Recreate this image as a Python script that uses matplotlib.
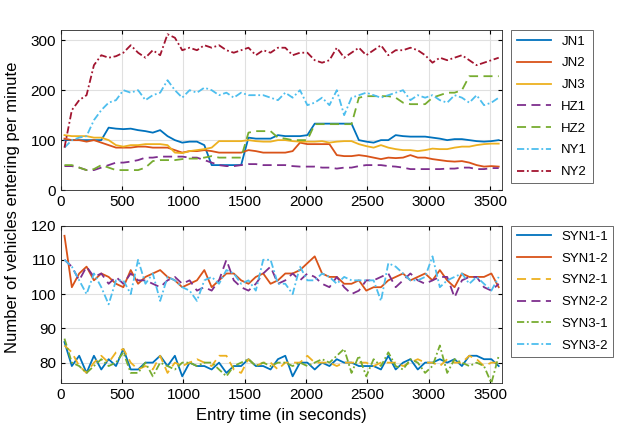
import numpy as np
import matplotlib.pyplot as plt

plt.rcParams['font.family'] = 'Liberation Sans'

# entry times (s), one sample per minute
T = [30 + 60 * i for i in range(60)]

JN1 = [100, 100, 100, 100, 100, 100, 125, 123, 122, 123, 120, 118, 115, 120, 108, 100, 95, 97, 97, 90,
       50, 50, 50, 50, 50, 105, 103, 103, 103, 110, 108, 108, 108, 110, 133, 133, 133, 133, 133, 133,
       100, 97, 95, 100, 100, 110, 108, 107, 107, 107, 105, 103, 100, 102, 102, 100, 98, 97, 98, 100]
JN2 = [103, 100, 100, 97, 100, 95, 90, 85, 85, 85, 87, 87, 85, 85, 85, 80, 75, 78, 78, 80,
       78, 75, 75, 75, 75, 80, 78, 75, 75, 75, 75, 78, 95, 92, 92, 92, 92, 70, 68, 68,
       70, 68, 65, 62, 65, 64, 65, 70, 65, 65, 62, 60, 58, 57, 58, 55, 50, 47, 48, 47]
JN3 = [110, 108, 108, 108, 105, 105, 100, 90, 87, 90, 90, 92, 92, 92, 90, 75, 74, 78, 80, 82,
       85, 98, 98, 98, 98, 100, 98, 97, 97, 100, 100, 98, 97, 97, 97, 98, 95, 97, 98, 98,
       92, 88, 85, 90, 85, 82, 80, 80, 78, 80, 83, 82, 82, 85, 87, 87, 90, 92, 93, 93]
HZ1 = [48, 48, 45, 40, 40, 45, 50, 55, 55, 57, 60, 65, 65, 67, 67, 67, 67, 65, 65, 60,
       55, 50, 48, 48, 50, 52, 52, 50, 50, 50, 50, 48, 47, 47, 47, 45, 45, 43, 45, 45,
       48, 50, 50, 50, 48, 47, 45, 42, 42, 42, 42, 42, 43, 43, 45, 45, 42, 42, 44, 44]
HZ2 = [50, 50, 45, 40, 42, 50, 45, 40, 40, 40, 40, 45, 58, 60, 60, 60, 62, 63, 63, 65,
       68, 65, 65, 65, 65, 115, 118, 118, 118, 105, 103, 100, 100, 100, 132, 132, 132, 132, 132, 132,
       185, 188, 188, 188, 188, 185, 175, 172, 172, 172, 185, 190, 195, 195, 200, 228, 228, 228, 228, 228]
NY1 = [85, 100, 105, 108, 140, 160, 175, 180, 200, 195, 200, 180, 190, 195, 220, 200, 185, 200, 195, 205,
       200, 190, 195, 185, 195, 190, 190, 190, 185, 180, 195, 185, 200, 170, 175, 185, 170, 200, 150, 185,
       190, 195, 190, 185, 190, 195, 200, 180, 190, 185, 190, 180, 175, 190, 185, 175, 190, 170, 175, 185]
NY2 = [85, 160, 180, 190, 250, 270, 265, 268, 275, 290, 275, 265, 280, 270, 312, 305, 280, 285, 280, 290,
       285, 290, 280, 275, 280, 285, 270, 280, 275, 285, 285, 270, 275, 275, 260, 255, 260, 285, 265, 275,
       285, 270, 280, 290, 270, 280, 280, 285, 280, 270, 255, 265, 260, 265, 270, 260, 250, 255, 260, 265]

SYN1_1 = [86, 79, 82, 77, 82, 78, 81, 79, 84, 78, 78, 80, 80, 82, 79, 82, 76, 80, 79, 79,
          78, 80, 77, 79, 79, 81, 79, 79, 78, 81, 82, 76, 80, 80, 78, 80, 79, 81, 80, 80,
          79, 79, 79, 78, 82, 78, 80, 81, 78, 80, 80, 81, 80, 81, 79, 82, 82, 81, 81, 79]
SYN1_2 = [117, 102, 106, 108, 104, 106, 105, 103, 102, 107, 103, 105, 106, 107, 105, 104, 102, 103, 104, 107,
          102, 104, 106, 106, 104, 103, 105, 106, 103, 104, 106, 106, 107, 109, 111, 106, 105, 105, 103, 103,
          104, 101, 102, 102, 104, 105, 106, 104, 105, 106, 104, 107, 104, 102, 106, 105, 105, 105, 106, 102]
SYN2_1 = [85, 83, 79, 77, 80, 82, 80, 83, 84, 80, 78, 79, 78, 82, 77, 80, 79, 80, 81, 80,
          79, 82, 82, 78, 77, 81, 79, 80, 80, 78, 80, 80, 80, 82, 80, 80, 80, 79, 80, 80,
          80, 80, 79, 80, 80, 80, 79, 80, 81, 80, 80, 79, 81, 80, 80, 82, 81, 79, 80, 80]
SYN2_2 = [110, 108, 104, 108, 105, 106, 103, 105, 103, 106, 104, 104, 103, 102, 104, 105, 103, 104, 101, 102,
          101, 104, 110, 104, 102, 101, 103, 106, 108, 103, 104, 106, 104, 106, 105, 103, 102, 105, 102, 100,
          101, 104, 104, 105, 106, 102, 104, 106, 104, 103, 104, 105, 105, 99, 104, 105, 105, 102, 101, 103]
SYN3_1 = [87, 80, 79, 77, 79, 81, 79, 80, 83, 77, 77, 80, 76, 80, 79, 78, 80, 80, 79, 80,
          80, 78, 76, 79, 80, 81, 79, 80, 79, 80, 80, 79, 80, 79, 80, 81, 80, 82, 84, 77,
          82, 76, 81, 79, 83, 79, 78, 81, 80, 77, 79, 85, 77, 81, 80, 79, 80, 79, 74, 82]
SYN3_2 = [110, 108, 104, 100, 106, 102, 97, 104, 104, 100, 110, 103, 106, 98, 105, 104, 102, 101, 98, 104,
          105, 103, 107, 106, 103, 104, 101, 110, 110, 103, 103, 100, 108, 104, 104, 106, 105, 103, 105, 104,
          104, 104, 104, 98, 109, 108, 106, 104, 104, 105, 111, 102, 104, 105, 106, 103, 105, 103, 101, 105]

C = ['#0072BD', '#D95319', '#EDB120', '#7E2F8E', '#77AC30', '#4DBEEE', '#A2142F']
DASHED = (0, (5, 3))
DASHDOT = (0, (4, 1.5, 1, 1.5))

top = [('JN1', JN1, C[0], '-'), ('JN2', JN2, C[1], '-'), ('JN3', JN3, C[2], '-'),
       ('HZ1', HZ1, C[3], DASHED), ('HZ2', HZ2, C[4], DASHED),
       ('NY1', NY1, C[5], DASHDOT), ('NY2', NY2, C[6], DASHDOT)]
bot = [('SYN1-1', SYN1_1, C[0], '-'), ('SYN1-2', SYN1_2, C[1], '-'),
       ('SYN2-1', SYN2_1, C[2], DASHED), ('SYN2-2', SYN2_2, C[3], DASHED),
       ('SYN3-1', SYN3_1, C[4], DASHDOT), ('SYN3-2', SYN3_2, C[5], DASHDOT)]

fig = plt.figure(figsize=(6.4, 4.32), dpi=100)
ax1 = fig.add_axes([0.095, 0.56, 0.69, 0.37])
ax2 = fig.add_axes([0.095, 0.113, 0.69, 0.365])


def style(ax, series, ylim, yticks):
    for name, v, c, ls in series:
        ax.plot(T, v, color=c, ls=ls, lw=1.3, label=name)
    ax.set_xlim(0, 3600)
    ax.set_ylim(*ylim)
    ax.set_yticks(yticks)
    ax.set_xticks(range(0, 3600, 500))
    ax.grid(True, color='#e0e0e0', lw=0.8)
    ax.set_axisbelow(True)
    ax.tick_params(labelsize=11, direction='in', length=3, top=True, right=True)
    for sp in ax.spines.values():
        sp.set_color('#262626')
        sp.set_linewidth(0.6)
    leg = ax.legend(loc='upper left', bbox_to_anchor=(1.02, 1.0), fontsize=9.5,
                    fancybox=False, edgecolor='#262626', handlelength=2.6,
                    borderaxespad=0, labelspacing=0.72)
    leg.get_frame().set_linewidth(0.6)


style(ax1, top, (0, 320), [0, 100, 200, 300])
style(ax2, bot, (74, 120), [80, 90, 100, 110, 120])
ax2.set_xlabel('Entry time (in seconds)', fontsize=12)
fig.text(0.02, 0.52, 'Number of vehicles entering per minute', rotation=90,
         va='center', ha='center', fontsize=12)

fig.savefig('out.png', dpi=100)
